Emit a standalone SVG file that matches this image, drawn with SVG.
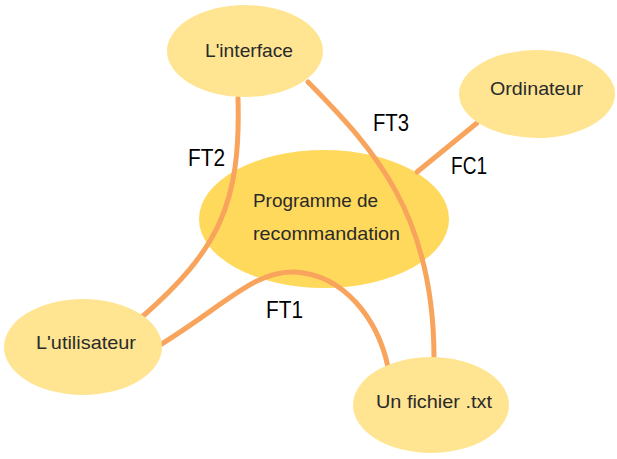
<svg xmlns="http://www.w3.org/2000/svg" width="617" height="459" viewBox="0 0 617 459">
<style>
.outer{fill:#FFE592;}
.center{fill:#FFD95C;}
.edge{fill:none;stroke:#F9A45C;stroke-width:5;stroke-linecap:round;}
.nt{font-family:"Liberation Sans",Arial,sans-serif;font-size:18.5px;fill:#2a2a2a;}
.lbl{font-family:"Liberation Sans",Arial,sans-serif;font-size:23px;fill:#000;}
</style>
<rect width="617" height="459" fill="#fff"/>
<g id="node-programme">
<ellipse class="center" cx="324" cy="219" rx="125" ry="69"/>
<text class="nt" x="253" y="207" textLength="125" lengthAdjust="spacingAndGlyphs">Programme de</text>
<text class="nt" x="253" y="240" textLength="147" lengthAdjust="spacingAndGlyphs">recommandation</text>
</g>
<g id="connectors">
<path class="edge" d="M238,98 C241,205 218,250 142,317"/>
<path class="edge" d="M308,82 C375,150 434,215 434,358"/>
<path class="edge" d="M477,123 L417,172"/>
<path class="edge" d="M160,345 C225,305 255,270 295,272 C345,275 378,320 388,367"/>
<text class="lbl" x="188" y="166" textLength="37" lengthAdjust="spacingAndGlyphs">FT2</text>
<text class="lbl" x="373" y="131" textLength="36" lengthAdjust="spacingAndGlyphs">FT3</text>
<text class="lbl" x="451" y="174" textLength="36" lengthAdjust="spacingAndGlyphs">FC1</text>
<text class="lbl" x="266" y="318" textLength="37" lengthAdjust="spacingAndGlyphs">FT1</text>
</g>
<g id="node-interface">
<ellipse class="outer" cx="245" cy="51" rx="78" ry="46"/>
<text class="nt" x="205" y="57" textLength="88" lengthAdjust="spacingAndGlyphs">L'interface</text>
</g>
<g id="node-ordinateur">
<ellipse class="outer" cx="537" cy="94" rx="78" ry="44"/>
<text class="nt" x="490" y="95" textLength="93" lengthAdjust="spacingAndGlyphs">Ordinateur</text>
</g>
<g id="node-utilisateur">
<ellipse class="outer" cx="83" cy="347" rx="79" ry="48"/>
<text class="nt" x="36" y="349" textLength="100" lengthAdjust="spacingAndGlyphs">L'utilisateur</text>
</g>
<g id="node-fichier">
<ellipse class="outer" cx="431" cy="405" rx="78" ry="48"/>
<text class="nt" x="376" y="408" textLength="116" lengthAdjust="spacingAndGlyphs">Un fichier .txt</text>
</g>
</svg>
